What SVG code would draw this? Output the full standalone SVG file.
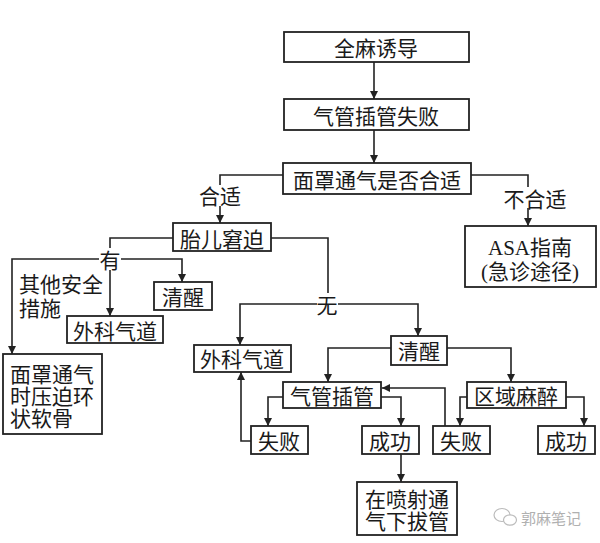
<svg xmlns="http://www.w3.org/2000/svg" width="600" height="543" viewBox="0 0 600 543">
<defs>
<style>
.box{fill:#fff;stroke:#222;stroke-width:1.8}
.t{font-family:"Noto Sans CJK SC","Noto Sans",sans-serif;font-size:21px;fill:#1a1a1a;text-anchor:middle;dominant-baseline:central}
.ts{text-anchor:start}
.asa{font-family:"Liberation Serif","Noto Sans CJK SC",serif}
.c{fill:none;stroke:#222;stroke-width:1.6}
.wm{font-family:"Noto Sans CJK SC",sans-serif;font-size:15px;fill:#b0b0b0;dominant-baseline:central}
</style>
<marker id="ah" viewBox="0 0 10 10" refX="10" refY="5" markerWidth="9" markerHeight="8" orient="auto" markerUnits="userSpaceOnUse">
<path d="M0,0 L10,5 L0,10 z" fill="#222"/>
</marker>
</defs>
<rect width="600" height="543" fill="#fff"/>

<g id="connectors">
<path class="c" d="M374,62 V99" marker-end="url(#ah)"/>
<path class="c" d="M374,130 V163" marker-end="url(#ah)"/>
<path class="c" d="M283,175 H220 V185"/>
<path class="c" d="M220,206 V223" marker-end="url(#ah)"/>
<path class="c" d="M471,175 H528 V187"/>
<path class="c" d="M528,208 V226" marker-end="url(#ah)"/>
<path class="c" d="M271,238 H328 V293"/>
<path class="c" d="M317,304 H240 V345" marker-end="url(#ah)"/>
<path class="c" d="M338,304 H418 V336" marker-end="url(#ah)"/>
<path class="c" d="M173,238 H110 V248"/>
<path class="c" d="M99,259 H12 V354" marker-end="url(#ah)"/>
<path class="c" d="M121,259 H182 V282" marker-end="url(#ah)"/>
<path class="c" d="M110,270 V316" marker-end="url(#ah)"/>
<path class="c" d="M391,348 H328 V382" marker-end="url(#ah)"/>
<path class="c" d="M447,348 H511 V382" marker-end="url(#ah)"/>
<path class="c" d="M283,397 H268 V426" marker-end="url(#ah)"/>
<path class="c" d="M381,397 H401 V426" marker-end="url(#ah)"/>
<path class="c" d="M251,441 H241 V372" marker-end="url(#ah)"/>
<path class="c" d="M401,454 V482" marker-end="url(#ah)"/>
<path class="c" d="M467,397 H460 V426" marker-end="url(#ah)"/>
<path class="c" d="M566,397 H584 V426" marker-end="url(#ah)"/>
<path class="c" d="M445,426 V388 H382" marker-end="url(#ah)"/>
<text class="t" x="220" y="195">合适</text>
<text class="t" x="535" y="198">不合适</text>
<text class="t" x="110" y="259">有</text>
<text class="t" x="327" y="304">无</text>
<text class="t ts" x="19" y="283">其他安全<tspan x="19" dy="24">措施</tspan></text>
</g>

<g id="n_induction"><rect class="box" x="284" y="32" width="185" height="30"/><text class="t" x="376" y="47">全麻诱导</text></g>
<g id="n_fail"><rect class="box" x="284" y="99" width="185" height="31"/><text class="t" x="376" y="115">气管插管失败</text></g>
<g id="n_mask"><rect class="box" x="283" y="163" width="188" height="31"/><text class="t" x="377" y="179">面罩通气是否合适</text></g>
<g id="n_asa"><rect class="box" x="465" y="226" width="131" height="61"/><text class="t asa" x="530" y="248">ASA指南<tspan x="530" dy="24">(急诊途径)</tspan></text></g>
<g id="n_fetal"><rect class="box" x="173" y="223" width="98" height="28"/><text class="t" x="222" y="238">胎儿窘迫</text></g>
<g id="n_wake1"><rect class="box" x="154" y="282" width="58" height="28"/><text class="t" x="183" y="296">清醒</text></g>
<g id="n_surg1"><rect class="box" x="67" y="316" width="96" height="27"/><text class="t" x="115" y="330">外科气道</text></g>
<g id="n_cricoid"><rect class="box" x="3" y="354" width="99" height="80"/><text class="t ts" x="10" y="373">面罩通气<tspan x="10" dy="22">时压迫环</tspan><tspan x="10" dy="22">状软骨</tspan></text></g>
<g id="n_surg2"><rect class="box" x="194" y="345" width="97" height="27"/><text class="t" x="242" y="358">外科气道</text></g>
<g id="n_wake2"><rect class="box" x="391" y="336" width="56" height="29"/><text class="t" x="419" y="350">清醒</text></g>
<g id="n_intub"><rect class="box" x="283" y="382" width="98" height="26"/><text class="t" x="332" y="395">气管插管</text></g>
<g id="n_regional"><rect class="box" x="467" y="382" width="99" height="26"/><text class="t" x="516" y="395">区域麻醉</text></g>
<g id="n_fail1"><rect class="box" x="251" y="426" width="57" height="28"/><text class="t" x="279" y="440">失败</text></g>
<g id="n_succ1"><rect class="box" x="362" y="426" width="57" height="28"/><text class="t" x="390" y="440">成功</text></g>
<g id="n_fail2"><rect class="box" x="433" y="426" width="57" height="28"/><text class="t" x="461" y="440">失败</text></g>
<g id="n_succ2"><rect class="box" x="538" y="426" width="57" height="28"/><text class="t" x="566" y="440">成功</text></g>
<g id="n_extub"><rect class="box" x="357" y="482" width="100" height="53"/><text class="t" x="407" y="498">在喷射通<tspan x="407" dy="22">气下拔管</tspan></text></g>

<g id="watermark">
<ellipse cx="502" cy="515" rx="8" ry="6.5" fill="none" stroke="#bbb" stroke-width="1.2"/>
<ellipse cx="510" cy="520" rx="6.5" ry="5.2" fill="#fff" stroke="#bbb" stroke-width="1.2"/>
<text class="wm" x="521" y="517">郭麻笔记</text>
</g>
</svg>
